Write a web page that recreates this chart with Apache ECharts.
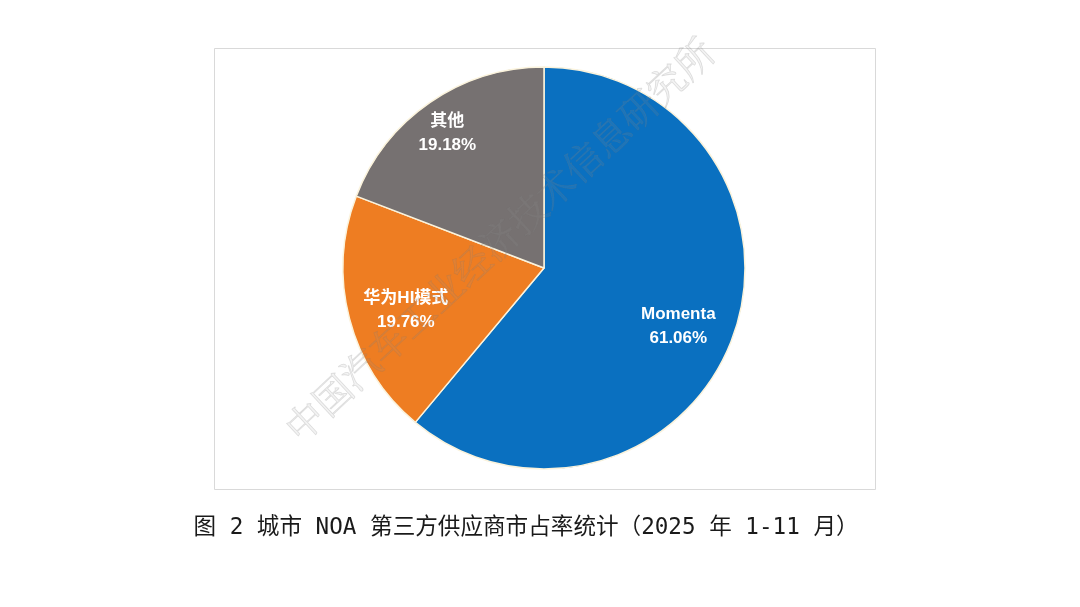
<!DOCTYPE html>
<html><head><meta charset="utf-8">
<script src="https://cdn.jsdelivr.net/npm/echarts@6/dist/echarts.min.js"></script>
<style>html,body{margin:0;padding:0;background:#fff}#c{width:1080px;height:607px}</style>
</head><body><div id="c"></div>
<script>
const categories = ['Momenta', '华为HI模式', '其他'];
const shares = [61.06, 19.76, 19.18];
const colors = ['#0a70c0', '#ee7d22', '#767171'];
const labelOffsets = [[37, 23], [-38, 16], [-38, -49]];
const captionText = '图 2 城市 NOA 第三方供应商市占率统计（2025 年 1-11 月）';
const watermarkText = '中国汽车工业经济技术信息研究所';

const chart = echarts.init(document.getElementById('c'));
chart.setOption({
  animation: false,
  backgroundColor: '#ffffff',
  title: {
    text: captionText,
    left: 521, top: 512, textAlign: 'center',
    textStyle: { fontFamily: '"DejaVu Sans Mono", "Noto Sans CJK SC"', fontSize: 22.6, fontWeight: 'normal', color: '#1a1a1a' }
  },
  graphic: [
    { type: 'rect', shape: { x: 214.5, y: 48.5, width: 661, height: 441 },
      style: { fill: 'none', stroke: '#d9d9d9', lineWidth: 1 }, z: -1 },
    { type: 'text', x: 278, y: 420, rotation: 43 * Math.PI / 180, z: 100,
      style: { text: watermarkText, fontFamily: 'Noto Serif CJK SC, Noto Sans CJK SC', fontSize: 38,
               fill: 'rgba(160,160,160,0.12)', stroke: 'rgba(120,120,120,0.22)', lineWidth: 0.8 } }
  ],
  series: [{
    type: 'pie',
    center: [544, 268],
    radius: 201,
    startAngle: 90,
    clockwise: true,
    data: categories.map((n, i) => ({
      name: n, value: shares[i],
      itemStyle: { color: colors[i] },
      label: { offset: labelOffsets[i] }
    })),
    itemStyle: { borderColor: '#fbf3dc', borderWidth: 1.5 },
    label: {
      show: true, position: 'inside',
      formatter: p => p.name + '\n' + p.value.toFixed(2) + '%',
      color: '#ffffff', fontSize: 17, lineHeight: 24, fontWeight: 'bold',
      fontFamily: '"Liberation Sans", "Noto Sans CJK SC"'
    },
    labelLine: { show: false },
    emphasis: { disabled: true }
  }]
});
</script></body></html>
